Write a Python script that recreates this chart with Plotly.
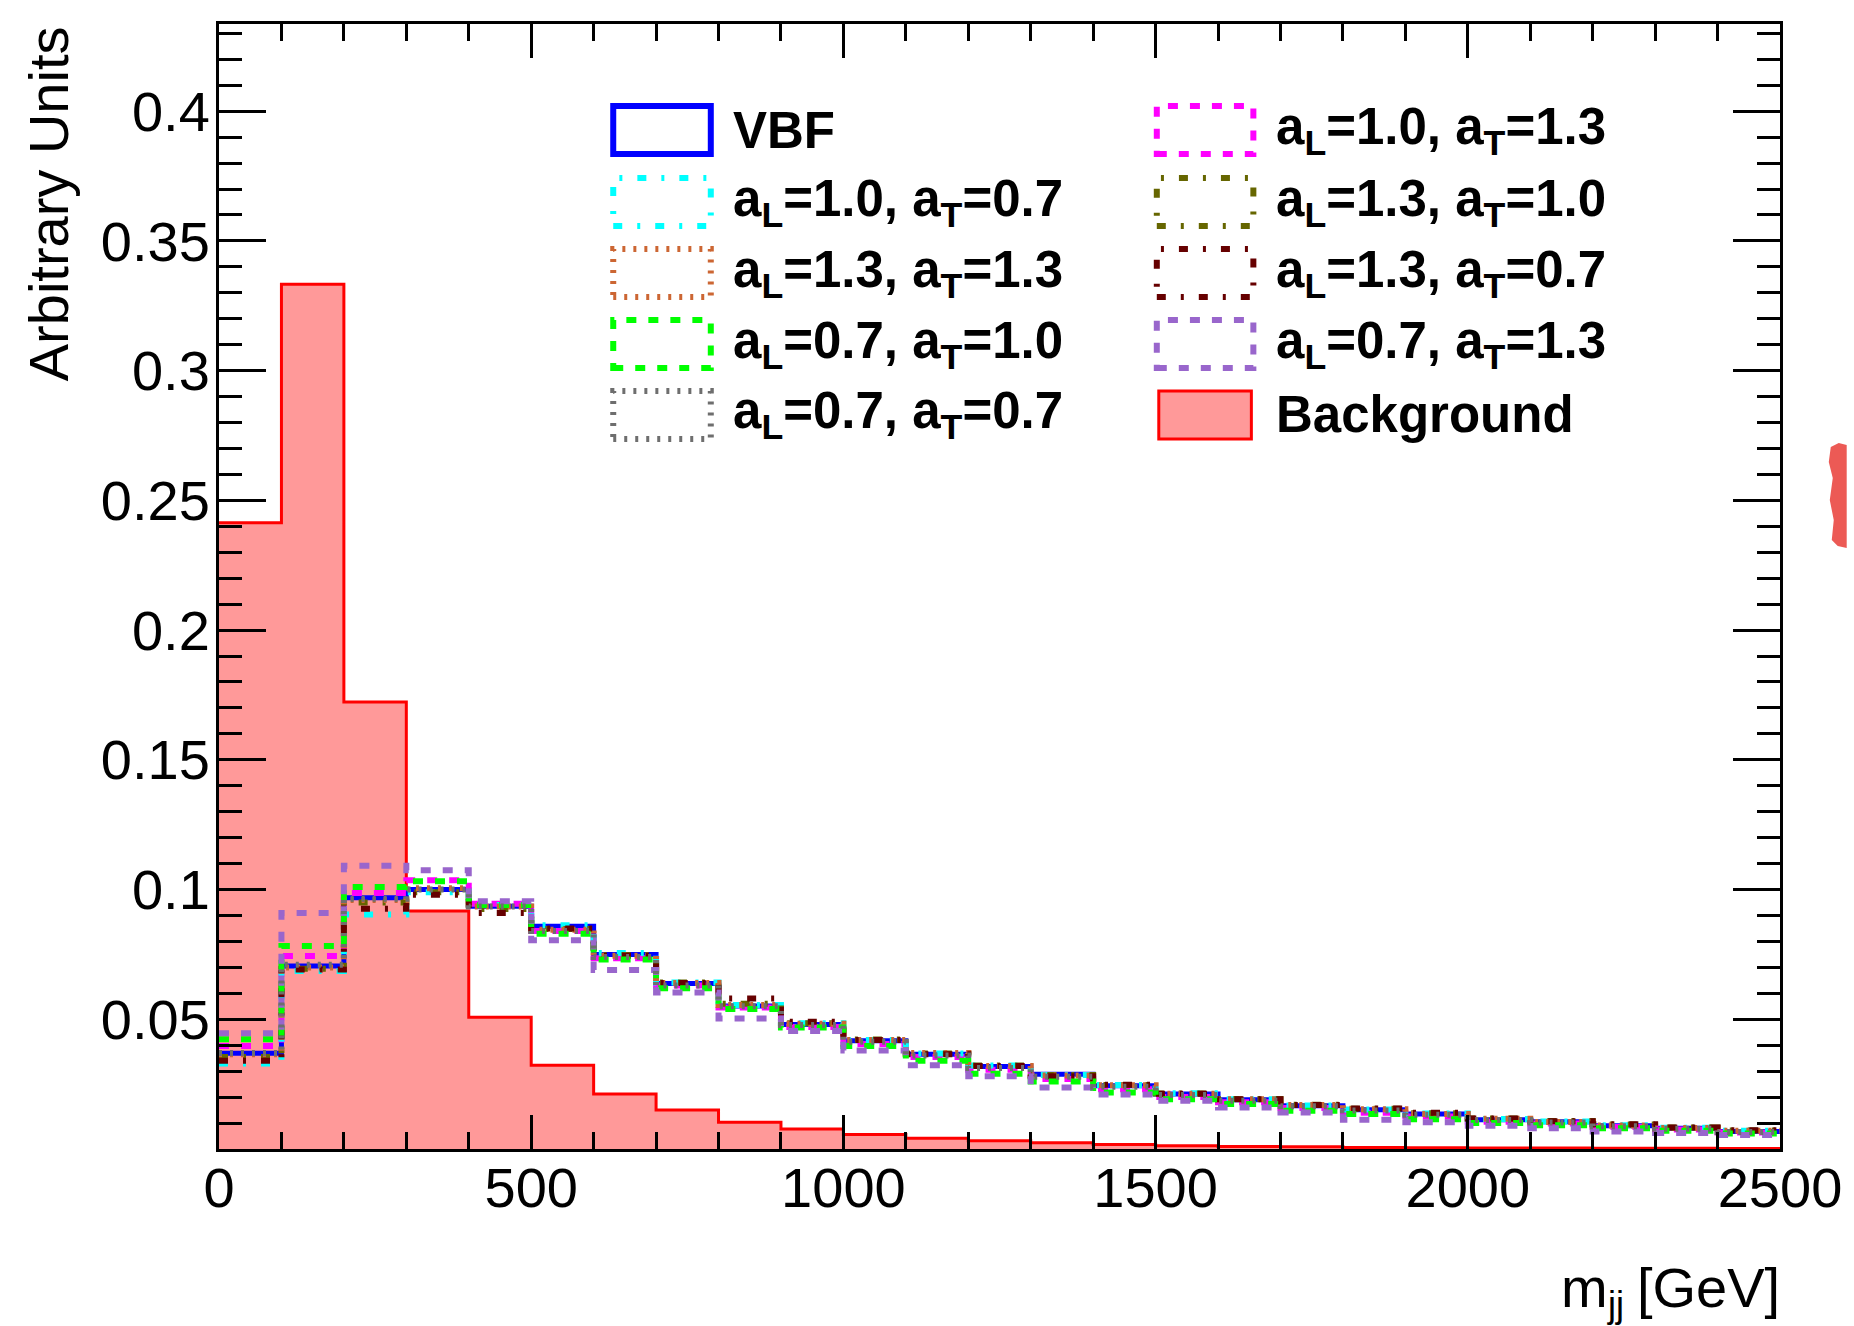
import plotly.graph_objects as go

# m_jj binning (GeV), 100 GeV bins
bin_edges = [0, 100, 200, 300, 400, 500, 600, 700, 800, 900, 1000, 1100, 1200,
             1300, 1400, 1500, 1600, 1700, 1800, 1900, 2000, 2100, 2200, 2300,
             2400, 2500]

# Normalised distributions (arbitrary units), one value per bin
background = [0.2414, 0.3333, 0.1723, 0.0917, 0.0508, 0.0323, 0.0212, 0.0150,
              0.0103, 0.0077, 0.0056, 0.0041, 0.0032, 0.0024, 0.0017, 0.0013,
              0.0010, 0.0009, 0.0006, 0.0005, 0.0004, 0.0004, 0.0003, 0.0003,
              0.0002]
vbf = [0.0369, 0.0705, 0.0968, 0.1000, 0.0936, 0.0859, 0.0750, 0.0638, 0.0551,
       0.0480, 0.0417, 0.0365, 0.0318, 0.0288, 0.0244, 0.0212, 0.0190, 0.0167,
       0.0151, 0.0135, 0.0113, 0.0105, 0.0090, 0.0080, 0.0067]
al10_at13 = [0.0397, 0.0744, 0.0987, 0.1036, 0.0945, 0.0840, 0.0735, 0.0630,
             0.0545, 0.0470, 0.0405, 0.0355, 0.0305, 0.0270, 0.0230, 0.0200,
             0.0180, 0.0158, 0.0140, 0.0125, 0.0105, 0.0098, 0.0085, 0.0075,
             0.0064]
al10_at07 = [0.0330, 0.0686, 0.0904, 0.0990, 0.0940, 0.0862, 0.0755, 0.0642,
             0.0555, 0.0485, 0.0420, 0.0368, 0.0322, 0.0285, 0.0247, 0.0215,
             0.0192, 0.0168, 0.0152, 0.0137, 0.0116, 0.0106, 0.0092, 0.0082,
             0.0070]
al13_at10 = [0.0355, 0.0695, 0.0950, 0.0990, 0.0925, 0.0848, 0.0748, 0.0642,
             0.0560, 0.0485, 0.0422, 0.0368, 0.0322, 0.0285, 0.0247, 0.0214,
             0.0193, 0.0171, 0.0155, 0.0138, 0.0118, 0.0108, 0.0094, 0.0083,
             0.0071]
al13_at13 = [0.0365, 0.0700, 0.0960, 0.1005, 0.0935, 0.0845, 0.0745, 0.0640,
             0.0555, 0.0483, 0.0420, 0.0370, 0.0320, 0.0283, 0.0246, 0.0213,
             0.0192, 0.0170, 0.0153, 0.0135, 0.0117, 0.0104, 0.0091, 0.0081,
             0.0070]
al13_at07 = [0.0340, 0.0692, 0.0926, 0.0980, 0.0910, 0.0850, 0.0745, 0.0640,
             0.0580, 0.0490, 0.0420, 0.0365, 0.0320, 0.0280, 0.0248, 0.0213,
             0.0192, 0.0170, 0.0156, 0.0140, 0.0118, 0.0107, 0.0095, 0.0083,
             0.0072]
al07_at10 = [0.0423, 0.0782, 0.1010, 0.1032, 0.0940, 0.0830, 0.0730, 0.0620,
             0.0540, 0.0468, 0.0397, 0.0340, 0.0290, 0.0260, 0.0218, 0.0192,
             0.0173, 0.0147, 0.0135, 0.0115, 0.0100, 0.0092, 0.0080, 0.0070,
             0.0060]
al07_at13 = [0.0446, 0.0910, 0.1092, 0.1074, 0.0955, 0.0805, 0.0690, 0.0603,
             0.0503, 0.0455, 0.0380, 0.0323, 0.0280, 0.0237, 0.0210, 0.0186,
             0.0160, 0.0141, 0.0113, 0.0103, 0.0090, 0.0080, 0.0067, 0.0062,
             0.0054]
al07_at07 = [0.0370, 0.0710, 0.0965, 0.1000, 0.0935, 0.0840, 0.0740, 0.0630,
             0.0550, 0.0478, 0.0413, 0.0360, 0.0312, 0.0278, 0.0240, 0.0208,
             0.0186, 0.0165, 0.0148, 0.0132, 0.0112, 0.0102, 0.0088, 0.0078,
             0.0066]

# Legend labels
label_vbf = "VBF"
label_10_13 = "a<sub>L</sub>=1.0, a<sub>T</sub>=1.3"
label_10_07 = "a<sub>L</sub>=1.0, a<sub>T</sub>=0.7"
label_13_10 = "a<sub>L</sub>=1.3, a<sub>T</sub>=1.0"
label_13_13 = "a<sub>L</sub>=1.3, a<sub>T</sub>=1.3"
label_13_07 = "a<sub>L</sub>=1.3, a<sub>T</sub>=0.7"
label_07_10 = "a<sub>L</sub>=0.7, a<sub>T</sub>=1.0"
label_07_13 = "a<sub>L</sub>=0.7, a<sub>T</sub>=1.3"
label_07_07 = "a<sub>L</sub>=0.7, a<sub>T</sub>=0.7"
label_bkg = "Background"

x_tick_vals = [0, 500, 1000, 1500, 2000, 2500]
x_tick_text = ["0", "500", "1000", "1500", "2000", "2500"]
y_tick_vals = [0.05, 0.1, 0.15, 0.2, 0.25, 0.3, 0.35, 0.4]
y_tick_text = ["0.05", "0.1", "0.15", "0.2", "0.25", "0.3", "0.35", "0.4"]

# line styles
DASH = "10px,12px"
DASHDOT = "9px,15px,3px,15px"
DOT = "3px,8px"

signals = [
    (vbf, label_vbf, "#0000ff", "solid", 5),
    (al10_at13, label_10_13, "#ff00ff", DASH, 6),
    (al10_at07, label_10_07, "#00ffff", DASHDOT, 6),
    (al13_at10, label_13_10, "#666600", DASHDOT, 6),
    (al13_at13, label_13_13, "#cc6633", DOT, 6),
    (al13_at07, label_13_07, "#660000", DASHDOT, 6),
    (al07_at10, label_07_10, "#00ff00", DASH, 6),
    (al07_at13, label_07_13, "#9966cc", DASH, 6),
    (al07_at07, label_07_07, "#6e6e6e", DOT, 6),
]

FONT = "Liberation Sans, Arial, Helvetica, sans-serif"

W, H = 1854, 1326
L, R, T, B = 219, 67, 24, 177
PW, PH = W - L - R, H - T - B


def px_x(p):
    return (p - L) / PW


def px_y(p):
    return (H - B - p) / PH


def step(values):
    return bin_edges, list(values) + [values[-1]]


fig = go.Figure()

bx, by = step(background)
fig.add_trace(go.Scatter(
    x=bx, y=by, mode="lines", line=dict(color="#ff0000", width=3, shape="hv"),
    fill="tozeroy", fillcolor="#ff9999", showlegend=False, hoverinfo="skip"))

for vals, name, color, dash, width in signals:
    sx, sy = step(vals)
    fig.add_trace(go.Scatter(
        x=sx, y=sy, mode="lines",
        line=dict(color=color, width=width, dash=dash, shape="hv"),
        showlegend=False, name=name))

# two-column legend with outlined boxes
rows_px = [130, 202, 273, 344, 415]
left_entries = [signals[0], signals[2], signals[4], signals[6], signals[8]]
right_entries = [signals[1], signals[3], signals[5], signals[7]]

shapes = []
annotations = []
box_half = 24


def add_entry(col_box, col_text, row_px, name, color, dash, fill=None, lw=6):
    shapes.append(dict(
        type="rect", xref="paper", yref="paper", layer="above",
        x0=px_x(col_box[0]), x1=px_x(col_box[1]),
        y0=px_y(row_px + box_half), y1=px_y(row_px - box_half),
        line=dict(color=color, width=lw, dash=dash),
        fillcolor=fill if fill else "rgba(0,0,0,0)"))
    annotations.append(dict(
        xref="paper", yref="paper", x=px_x(col_text), y=px_y(row_px),
        xanchor="left", yanchor="middle", showarrow=False,
        text="<b>" + name + "</b>",
        font=dict(family=FONT, size=51, color="black")))


for row, (vals, name, color, dash, width) in zip(rows_px, left_entries):
    add_entry((615, 713), 733, row, name, color, dash)
for row, (vals, name, color, dash, width) in zip(rows_px, right_entries):
    add_entry((1161, 1258), 1279, row, name, color, dash)
add_entry((1163, 1256), 1279, rows_px[4], label_bkg, "#ff0000", "solid",
          fill="#ff9999", lw=3)

# small red patch at the right edge of the canvas
patch_pts = [(1838, 447), (1846, 443), (1854, 445), (1854, 548), (1845, 546),
             (1839, 540), (1841, 520), (1837, 500), (1840, 478), (1836, 462)]
patch_path = "M " + " L ".join(f"{px_x(a):.5f},{px_y(b):.5f}" for a, b in patch_pts) + " Z"
shapes.append(dict(type="path", xref="paper", yref="paper", path=patch_path,
                   fillcolor="#ec5a55", line=dict(width=0), layer="above"))

# x-axis title, set in pieces: m, subscript jj, [GeV]
title_font = dict(family=FONT, size=56, color="black")
annotations.append(dict(
    xref="paper", yref="paper", x=px_x(1565), y=px_y(1287), xanchor="left",
    yanchor="middle", showarrow=False, text="m", font=title_font))
annotations.append(dict(
    xref="paper", yref="paper", x=px_x(1611), y=px_y(1304), xanchor="left",
    yanchor="middle", showarrow=False, text="jj",
    font=dict(family=FONT, size=36, color="black")))
annotations.append(dict(
    xref="paper", yref="paper", x=px_x(1789), y=px_y(1287), xanchor="right",
    yanchor="middle", showarrow=False, text="[GeV]", font=title_font))

# y-axis title
annotations.append(dict(
    xref="paper", yref="paper", x=px_x(48), y=1.0, xanchor="center",
    yanchor="top", showarrow=False, text="Arbitrary Units", textangle=-90,
    font=title_font))

axis_common = dict(
    showline=True, linewidth=3, linecolor="black", mirror="ticks",
    ticks="inside", tickcolor="black", tickwidth=2.5, showgrid=False,
    zeroline=False, tickfont=dict(family=FONT, size=56, color="black"),
)

fig.update_layout(
    width=W, height=H,
    margin=dict(l=L, r=R, t=T, b=B, pad=0),
    paper_bgcolor="white", plot_bgcolor="white",
    showlegend=False,
    xaxis=dict(range=[0, 2500], tickmode="array", tickvals=x_tick_vals,
               ticktext=x_tick_text, ticklen=34, ticklabelstandoff=-12,
               minor=dict(tickmode="linear", tick0=0, dtick=100, ticks="inside",
                          ticklen=17, tickwidth=2.5, tickcolor="black"),
               **axis_common),
    yaxis=dict(range=[0, 0.4336], tickmode="array", tickvals=y_tick_vals,
               ticktext=y_tick_text, ticklen=47, ticklabelstandoff=-5,
               minor=dict(tickmode="linear", tick0=0, dtick=0.01, ticks="inside",
                          ticklen=23, tickwidth=2.5, tickcolor="black"),
               **axis_common),
    shapes=shapes,
    annotations=annotations,
)

fig.write_html("out.html")
